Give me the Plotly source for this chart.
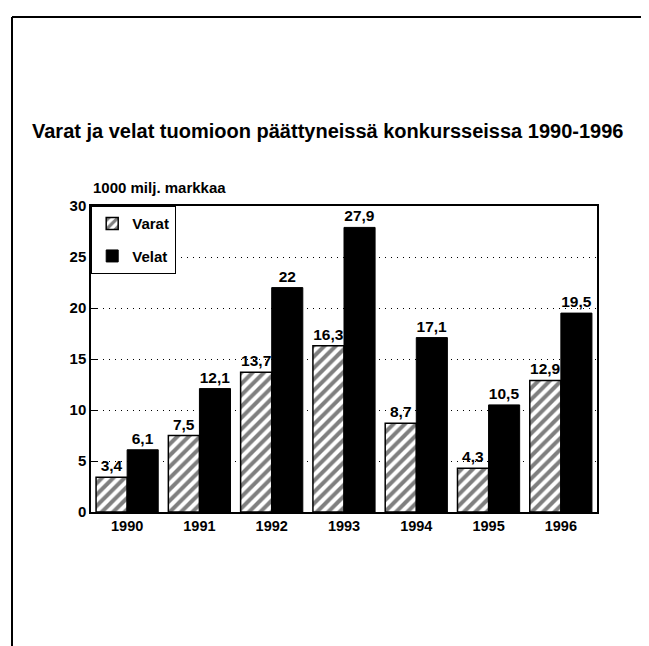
import plotly.graph_objects as go

years = ["1990", "1991", "1992", "1993", "1994", "1995", "1996"]
varat = [3.4, 7.5, 13.7, 16.3, 8.7, 4.3, 12.9]
velat = [6.1, 12.1, 22, 27.9, 17.1, 10.5, 19.5]
y_ticks = [0, 5, 10, 15, 20, 25, 30]

title_text = "Varat ja velat tuomioon päättyneissä konkursseissa 1990-1996"
unit_text = "1000 milj. markkaa"

def fi(v):
    s = ("%g" % v)
    return s.replace(".", ",")

FONT = "Liberation Sans, Arial, sans-serif"
W, H = 649, 646
L, R, T, B = 83, 60, 198, 142
pw = W - L - R
ph = H - T - B

fig = go.Figure()
fig.add_trace(go.Bar(
    x=years, y=varat, name="Varat",
    text=[fi(v) for v in varat], textposition="outside",
    textfont=dict(family=FONT, size=15.5, color="black", weight="bold"),
    marker=dict(color="white", line=dict(color="black", width=1.5),
                pattern=dict(shape="/", fgcolor="black", bgcolor="white", size=8, solidity=0.5)),
    cliponaxis=False, constraintext="none", legendgroup="a",
))
fig.add_trace(go.Bar(
    x=years, y=velat, name="Velat",
    text=[fi(v) for v in velat], textposition="outside",
    textfont=dict(family=FONT, size=15.5, color="black", weight="bold"),
    marker=dict(color="black", line=dict(color="black", width=1)),
    cliponaxis=False, constraintext="none", legendgroup="b",
))

def px_to_paper_x(px):
    return (px - L) / pw

def px_to_paper_y(py):
    return (H - B - py) / ph

fig.update_layout(
    width=W, height=H,
    margin=dict(l=L, r=R, t=T, b=B, pad=0),
    paper_bgcolor="white", plot_bgcolor="white",
    barmode="group", bargap=0.14, bargroupgap=0,
    font=dict(family=FONT, color="black"),
    title=dict(text=title_text, x=24 / W, xanchor="left", xref="container",
               y=1 - 123 / H, yanchor="middle", yref="container",
               font=dict(family=FONT, size=20, color="black", weight="bold")),
    showlegend=True,
    legend=dict(x=0, y=1, xanchor="left", yanchor="top",
                bordercolor="black", borderwidth=1.2, bgcolor="white",
                font=dict(family=FONT, size=15, color="black", weight="bold"),
                traceorder="grouped", tracegroupgap=10),
    xaxis=dict(showline=True, linecolor="black", linewidth=1.5, mirror=True,
               ticks="", showgrid=False,
               tickfont=dict(family=FONT, size=14.5, color="black", weight="bold")),
    yaxis=dict(range=[0, 30], tickvals=y_ticks, showline=True, linecolor="black",
               linewidth=1.5, mirror=True, ticks="inside", ticklen=7, tickcolor="black",
               showgrid=True, gridcolor="black", gridwidth=1, griddash="1px,5px",
               zeroline=False,
               tickfont=dict(family=FONT, size=15, color="black", weight="bold")),
    annotations=[dict(text=unit_text, xref="paper", yref="paper", x=0, y=px_to_paper_y(179),
                      xanchor="left", yanchor="middle", showarrow=False,
                      font=dict(family=FONT, size=15, color="black", weight="bold"))],
    shapes=[
        dict(type="line", xref="paper", yref="paper",
             x0=px_to_paper_x(4), x1=px_to_paper_x(W + 2), y0=px_to_paper_y(9), y1=px_to_paper_y(9),
             line=dict(color="black", width=2)),
        dict(type="line", xref="paper", yref="paper",
             x0=px_to_paper_x(4), x1=px_to_paper_x(4), y0=px_to_paper_y(9), y1=px_to_paper_y(H + 2),
             line=dict(color="black", width=2)),
    ],
)

fig.write_html("out.html")
